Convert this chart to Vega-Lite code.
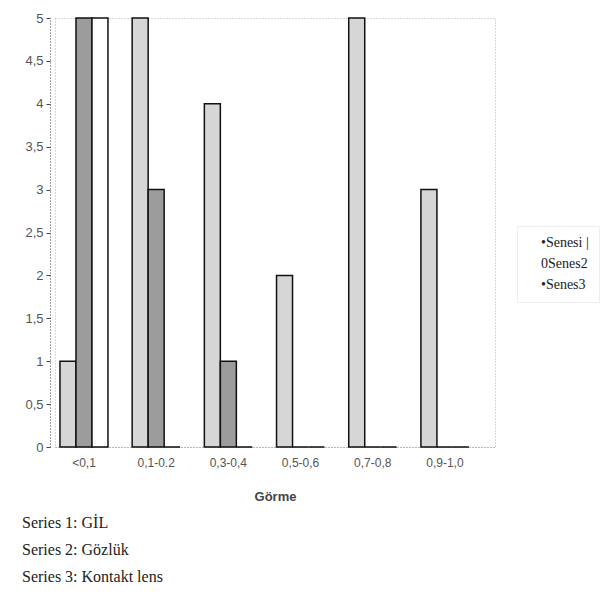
{
  "$schema": "https://vega.github.io/schema/vega-lite/v6.json",
  "width": 440,
  "height": 429,
  "autosize": {"type": "none"},
  "padding": {"left": 55, "top": 18, "right": 119, "bottom": 165},
  "background": "white",
  "config": {
    "view": {"stroke": "#b0b0b0", "strokeDash": [1, 2], "strokeWidth": 1}
  },
  "title": {
    "text": ["Series 1: GİL", "Series 2: Gözlük", "Series 3: Kontakt lens"],
    "orient": "bottom",
    "anchor": "start",
    "frame": "group",
    "dx": -33,
    "offset": 12,
    "font": "Liberation Serif",
    "fontSize": 16,
    "fontWeight": "normal",
    "color": "#222",
    "lineHeight": 27
  },
  "data": {
    "values": [
      {"gorme": "<0,1", "series": "Series 1", "value": 1},
      {"gorme": "<0,1", "series": "Series 2", "value": 5},
      {"gorme": "<0,1", "series": "Series 3", "value": 5},
      {"gorme": "0,1-0.2", "series": "Series 1", "value": 5},
      {"gorme": "0,1-0.2", "series": "Series 2", "value": 3},
      {"gorme": "0,1-0.2", "series": "Series 3", "value": 0},
      {"gorme": "0,3-0,4", "series": "Series 1", "value": 4},
      {"gorme": "0,3-0,4", "series": "Series 2", "value": 1},
      {"gorme": "0,3-0,4", "series": "Series 3", "value": 0},
      {"gorme": "0,5-0,6", "series": "Series 1", "value": 2},
      {"gorme": "0,5-0,6", "series": "Series 2", "value": 0},
      {"gorme": "0,5-0,6", "series": "Series 3", "value": 0},
      {"gorme": "0,7-0,8", "series": "Series 1", "value": 5},
      {"gorme": "0,7-0,8", "series": "Series 2", "value": 0},
      {"gorme": "0,7-0,8", "series": "Series 3", "value": 0},
      {"gorme": "0,9-1,0", "series": "Series 1", "value": 3},
      {"gorme": "0,9-1,0", "series": "Series 2", "value": 0},
      {"gorme": "0,9-1,0", "series": "Series 3", "value": 0}
    ]
  },
  "mark": {"type": "bar", "stroke": "#111", "strokeWidth": 1.5},
  "encoding": {
    "x": {
      "field": "gorme",
      "type": "nominal",
      "sort": null,
      "scale": {"paddingInner": 0.335, "paddingOuter": 0.215, "align": 0.16},
      "axis": {
        "title": "Görme",
        "titleFont": "Liberation Sans",
        "titleFontSize": 13,
        "titleFontWeight": "bold",
        "titleColor": "#444",
        "titlePadding": 22,
        "labelAngle": 0,
        "labelFont": "Liberation Sans",
        "labelFontSize": 12,
        "labelColor": "#555",
        "labelPadding": 10,
        "ticks": false,
        "domainColor": "#999",
        "domainDash": [1, 2]
      }
    },
    "xOffset": {"field": "series", "type": "nominal", "scale": {"paddingInner": 0, "paddingOuter": 0}},
    "y": {
      "field": "value",
      "type": "quantitative",
      "scale": {"domain": [0, 5], "nice": false},
      "axis": {
        "title": null,
        "values": [0, 0.5, 1, 1.5, 2, 2.5, 3, 3.5, 4, 4.5, 5],
        "labelExpr": "replace(format(datum.value, '~g'), '.', ',')",
        "labelFont": "Liberation Sans",
        "labelFontSize": 13,
        "labelColor": "#555",
        "grid": false,
        "offset": 5,
        "tickSize": 4,
        "tickColor": "#444",
        "domainColor": "#444",
        "domainDash": [1, 2],
        "labelPadding": 3
      }
    },
    "color": {
      "field": "series",
      "type": "nominal",
      "scale": {"domain": ["Series 1", "Series 2", "Series 3"], "range": ["#d6d6d6", "#9c9c9c", "#ffffff"]},
      "legend": {
        "orient": "none",
        "legendX": 462,
        "legendY": 208,
        "title": null,
        "symbolOpacity": 0,
        "symbolSize": 1,
        "symbolStrokeWidth": 0,
        "labelFont": "Liberation Serif",
        "labelFontSize": 14,
        "labelColor": "#222",
        "rowPadding": 7,
        "labelOffset": 0,
        "padding": 10,
        "strokeColor": "#eeeeee",
        "labelExpr": "datum.label == 'Series 1' ? '•Senesi |' : datum.label == 'Series 2' ? '0Senes2' : '•Senes3'"
      }
    }
  }
}
